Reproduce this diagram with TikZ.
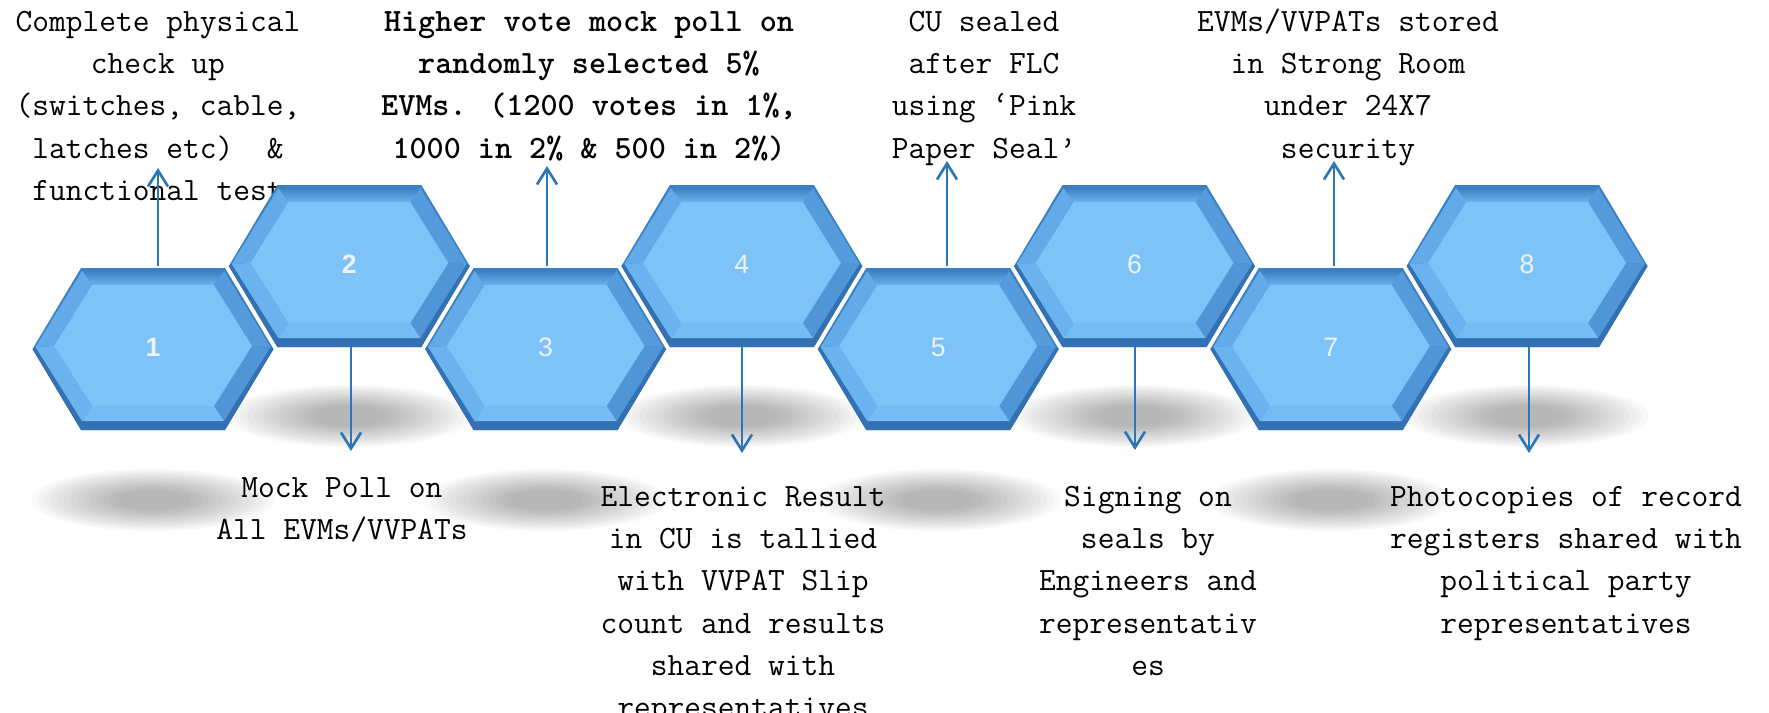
\documentclass[tikz,border=0pt]{standalone}
\usepackage{fontspec}
\newfontfamily\numfont{Liberation Sans}
\usetikzlibrary{arrows.meta}
\definecolor{arrowblue}{HTML}{2E75B6}
\definecolor{rimc}{HTML}{3C80C2}
\definecolor{rimlow}{HTML}{3471B2}
\definecolor{topA}{HTML}{3E81C3}
\definecolor{topB}{HTML}{6BB2ED}
\definecolor{ulc}{HTML}{62AAE8}
\definecolor{urc}{HTML}{569CDC}
\definecolor{llc}{HTML}{6AB3EE}
\definecolor{lrc}{HTML}{5096D6}
\definecolor{botc}{HTML}{74BCF3}
\definecolor{facec}{HTML}{7EC3F7}
\definecolor{numc}{HTML}{EDF3F9}
\newcommand\fl{\rule{0pt}{19.5pt}}
\newcommand\hexcell[2]{%
\begin{scope}[shift={(#1,#2)}]
\fill[rimc] (-120.5,0)--(-72,-81)--(72,-81)--(120.5,0)--(72,81)--(-72,81)--cycle;
\fill[rimlow] (-120.5,0)--(-117.5,-2)--(-71,72)--(71,72)--(117.5,-2)--(120.5,0)--(72,81)--(-72,81)--cycle;
\shade[top color=topA, bottom color=topB] (-71,-78)--(71,-78)--(61,-64)--(-61,-64)--cycle;
\fill[ulc] (-117.5,-2)--(-71,-78)--(-61,-64)--(-99,-3)--cycle;
\fill[urc] (71,-78)--(117.5,-2)--(99,-3)--(61,-64)--cycle;
\fill[lrc] (117.5,-2)--(71,72)--(61,57)--(99,-3)--cycle;
\fill[botc] (71,72)--(-71,72)--(-61,57)--(61,57)--cycle;
\fill[llc] (-71,72)--(-117.5,-2)--(-99,-3)--(-61,57)--cycle;
\fill[facec] (-99,-3)--(-61,-64)--(61,-64)--(99,-3)--(61,57)--(-61,57)--cycle;
\end{scope}}
\newcommand\softshadow[2]{%
\foreach \i in {0,...,13} {\fill[black, opacity=0.022] (#1,#2) ellipse ({122-6.5*\i} and {31-1.6*\i});}}
\tikzset{
  txt/.style={font=\ttfamily\fontsize{24.4}{31.7}\selectfont, align=center, inner sep=0pt, anchor=north, text=black},
  txtb/.style={txt, font=\ttfamily\bfseries\fontsize{24.4}{31.7}\selectfont},
  hexbox/.style={minimum width=180.75pt, minimum height=121.5pt, inner sep=0pt, text=numc, font=\numfont\fontsize{20}{24}\selectfont},
  hexboxb/.style={hexbox, font=\numfont\bfseries\fontsize{20}{24}\selectfont},
  arr/.style={draw=arrowblue, line width=2pt, -{Straight Barb[length=12pt,width=15pt]}}
}
\begin{document}
\begin{tikzpicture}[x=0.75pt,y=-0.75pt]
\useasboundingbox (0,0) rectangle (1769,713);
\clip (0,0) rectangle (1769,713);
% shadows
\softshadow{349.3}{416}
\softshadow{741.9}{416}
\softshadow{1134.5}{416}
\softshadow{1527.1}{416}
\softshadow{153}{500}
\softshadow{545.6}{500}
\softshadow{938.2}{500}
\softshadow{1330.8}{500}
% texts
\node[txt] (t1) at (158,5) {\fl Complete physical\\check up\\(switches, cable,\\latches etc)\ \ \&\\functional test};
\node[txtb] (t3) at (589,5) {\fl Higher vote mock poll on\\randomly selected 5\%\\EVMs. (1200 votes in 1\%,\\1000 in 2\% \& 500 in 2\%)};
\node[txt] (t5) at (984,5) {\fl CU sealed\\after FLC\\using ‘Pink\\Paper Seal’};
\node[txt] (t7) at (1348,5) {\fl EVMs/VVPATs stored\\in Strong Room\\under 24X7\\security};
\node[txt] (t2) at (342,471) {\fl Mock Poll on\\All EVMs/VVPATs};
\node[txt] (t4) at (743,480) {\fl Electronic Result\\in CU is tallied\\with VVPAT Slip\\count and results\\shared with\\representatives};
\node[txt] (t6) at (1148,480) {\fl Signing on\\seals by\\Engineers and\\representativ\\es};
\node[txt] (t8) at (1566,480) {\fl Photocopies of record\\registers shared with\\political party\\representatives};
% hexagons
\hexcell{153}{349}
\hexcell{349.3}{266}
\hexcell{545.6}{349}
\hexcell{741.9}{266}
\hexcell{938.2}{349}
\hexcell{1134.5}{266}
\hexcell{1330.8}{349}
\hexcell{1527.1}{266}
\node[hexboxb] (h1) at (153,347) {1};
\node[hexboxb] (h2) at (349.3,264) {2};
\node[hexbox] (h3) at (545.6,347) {3};
\node[hexbox] (h4) at (741.9,264) {4};
\node[hexbox] (h5) at (938.2,347) {5};
\node[hexbox] (h6) at (1134.5,264) {6};
\node[hexbox] (h7) at (1330.8,347) {7};
\node[hexbox] (h8) at (1527.1,264) {8};
% arrow ends
\coordinate (a1) at (158,168);
\coordinate (a3) at (547,166);
\coordinate (a5) at (947,161);
\coordinate (a7) at (1334,161);
\coordinate (a2) at (351,451);
\coordinate (a4) at (742,453);
\coordinate (a6) at (1135,450);
\coordinate (a8) at (1529,453);
\draw[arr] (a1 |- h1.north) -- (a1);
\draw[arr] (a3 |- h3.north) -- (a3);
\draw[arr] (a5 |- h5.north) -- (a5);
\draw[arr] (a7 |- h7.north) -- (a7);
\draw[arr] (a2 |- h2.south) -- (a2);
\draw[arr] (a4 |- h4.south) -- (a4);
\draw[arr] (a6 |- h6.south) -- (a6);
\draw[arr] (a8 |- h8.south) -- (a8);
\end{tikzpicture}
\end{document}
